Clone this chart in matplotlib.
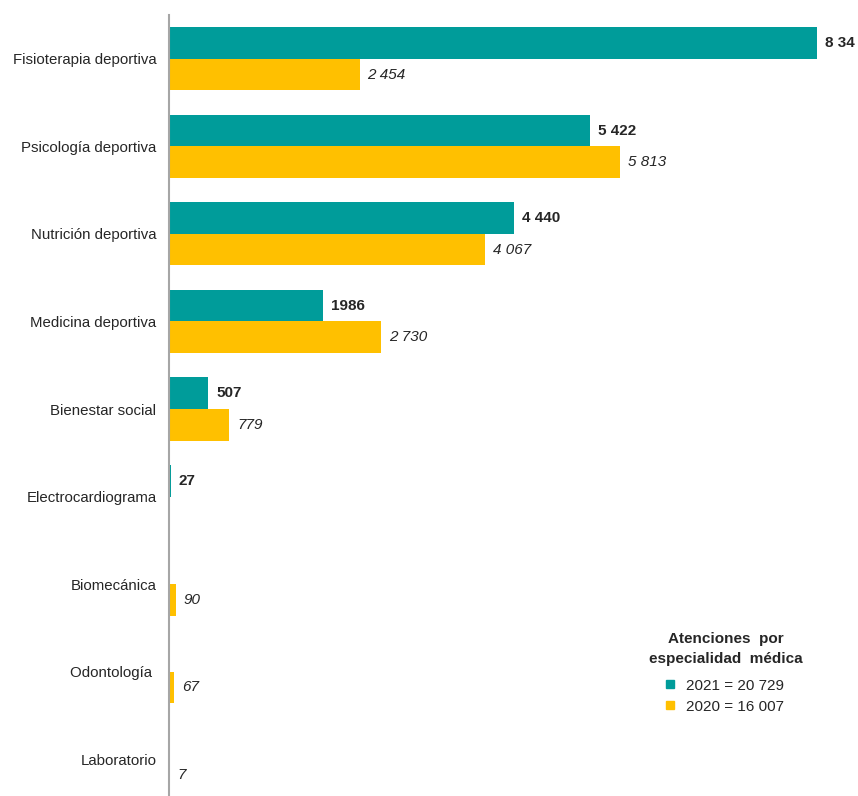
import numpy as np
import matplotlib.pyplot as plt
from matplotlib.lines import Line2D

plt.rcParams['font.family'] = ['Liberation Sans', 'DejaVu Sans']

categories = ['Fisioterapia deportiva', 'Psicología deportiva', 'Nutrición deportiva',
              'Medicina deportiva', 'Bienestar social', 'Electrocardiograma',
              'Biomecánica', 'Odontología ', 'Laboratorio']
vals_2021 = [8347, 5422, 4440, 1986, 507, 27, 0, 0, 0]
vals_2020 = [2454, 5813, 4067, 2730, 779, 0, 90, 67, 7]
labels_2021 = ['8 34', '5 422', '4 440', '1986', '507', '27', '', '', '']
labels_2020 = ['2 454', '5 813', '4 067', '2 730', '779', '', '90', '67', '7']
legend_labels = ['2021 = 20 729', '2020 = 16 007']

teal = '#009c9a'
gold = '#ffc000'
txt = '#262626'

fig = plt.figure(figsize=(8.58, 7.96), dpi=100)
ax = fig.add_axes([169/858, 0, 1 - 169/858, (796-15)/796])

y = np.arange(len(categories))
h = 0.36
ax.barh(y - h/2, vals_2021, height=h, color=teal)
ax.barh(y + h/2, vals_2020, height=h, color=gold)

for i in range(len(categories)):
    if labels_2021[i]:
        ax.text(vals_2021[i] + 100, y[i] - h/2, labels_2021[i], va='center', ha='left',
                fontsize=11, fontweight='bold', color=txt)
    if labels_2020[i]:
        ax.text(vals_2020[i] + 100, y[i] + h/2, labels_2020[i], va='center', ha='left',
                fontsize=11, fontstyle='italic', color=txt)

ax.set_xlim(0, (858-169)/0.07765)
ax.set_ylim(8.42, -0.5)
ax.set_yticks(y)
ax.set_yticklabels(categories, fontsize=10.8, color=txt)
ax.tick_params(axis='y', length=0, pad=9)
ax.set_xticks([])
for s in ['top', 'right', 'bottom']:
    ax.spines[s].set_visible(False)
ax.spines['left'].set_color('#a6a6a6')
ax.spines['left'].set_linewidth(1.5)

fig.text(726/858, 1 - 649/796, 'Atenciones  por\nespecialidad  médica', ha='center', va='center',
         fontsize=11, fontweight='bold', color=txt, linespacing=1.5)
handles = [Line2D([], [], ls='none', marker='s', markersize=6, color=teal),
           Line2D([], [], ls='none', marker='s', markersize=6, color=gold)]
fig.legend(handles, legend_labels, loc='upper left', bbox_to_anchor=(649/858, 1 - 665/796),
           frameon=False, fontsize=11, labelcolor=txt, handletextpad=0.5, labelspacing=0.45,
           handlelength=1.0)

fig.savefig('out.png', dpi=100)
